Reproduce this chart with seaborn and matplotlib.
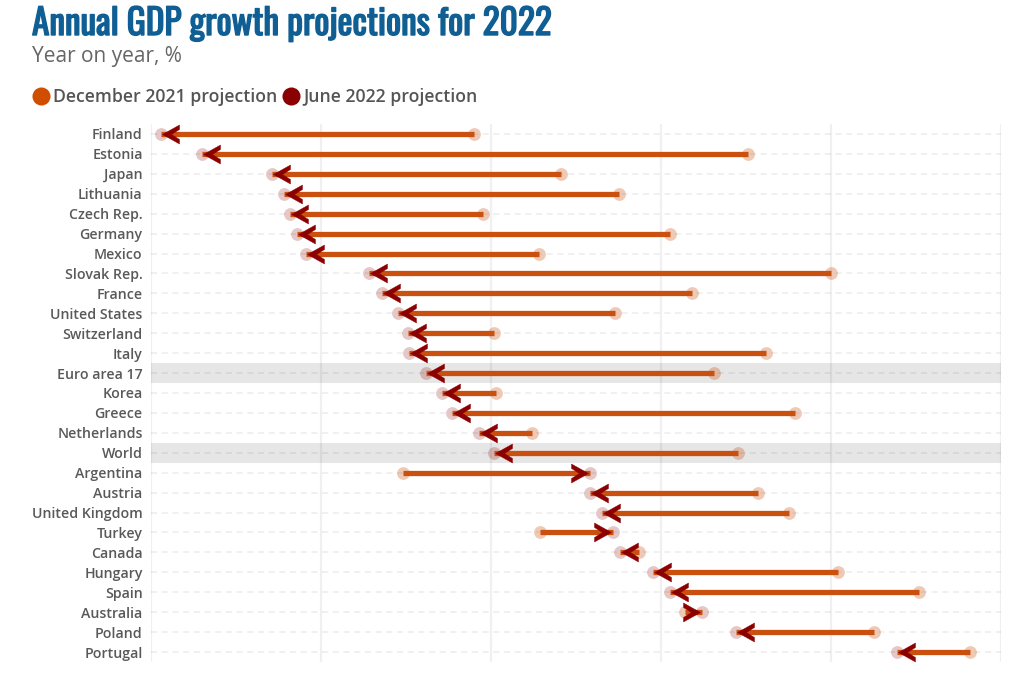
import numpy as np
import pandas as pd
import seaborn as sns
import matplotlib.pyplot as plt
import matplotlib.patheffects as pe
from matplotlib.lines import Line2D
from matplotlib.path import Path

# Values
countries = ["Finland", "Estonia", "Japan", "Lithuania", "Czech Rep.", "Germany", "Mexico",
             "Slovak Rep.", "France", "United States", "Switzerland", "Italy", "Euro area 17",
             "Korea", "Greece", "Netherlands", "World", "Argentina", "Austria", "United Kingdom",
             "Turkey", "Canada", "Hungary", "Spain", "Australia", "Poland", "Portugal"]
june_2022 = [1.06, 1.30, 1.71, 1.78, 1.82, 1.86, 1.91, 2.28, 2.36, 2.45, 2.51, 2.52, 2.62, 2.71,
             2.77, 2.93, 3.02, 3.58, 3.58, 3.65, 3.72, 3.76, 3.95, 4.05, 4.24, 4.44, 5.39]
dec_2021 = [2.90, 4.51, 3.41, 3.75, 2.95, 4.05, 3.28, 5.00, 4.18, 3.73, 3.02, 4.62, 4.31, 3.03,
            4.79, 3.24, 4.45, 2.48, 4.57, 4.75, 3.29, 3.87, 5.04, 5.52, 4.14, 5.25, 5.82]
highlighted = ["Euro area 17", "World"]
x_ticks = [1, 2, 3, 4, 5, 6]

ORANGE = "#c9500f"
DARK_RED = "#8b0000"
W, H = 1030, 694

sns.set_theme(style="white")
plt.rcParams["font.family"] = ["Open Sans", "DejaVu Sans"]

df = pd.DataFrame({"country": countries, "june": june_2022, "dec": dec_2021})
df["row"] = np.arange(len(df))

fig = plt.figure(figsize=(W / 100, H / 100), dpi=100, facecolor="white")
ax = fig.add_axes([151 / W, 1 - 662 / H, 850 / W, 538 / H])

# grey bands and the grid
for name in highlighted:
    r = countries.index(name)
    ax.axhspan(r - 0.5, r + 0.5, color="#e6e6e6", lw=0, zorder=0)
ax.hlines(df["row"], 1, 6, color="black", alpha=0.08, lw=1.1, linestyles=(0, (4, 3)), zorder=1)
for t in x_ticks:
    ax.axvline(t, color="black", alpha=0.06, lw=1.6, zorder=1)

# pale end points
sns.scatterplot(data=df, x="dec", y="row", color=ORANGE, alpha=0.3, s=85, linewidth=0, ax=ax, zorder=2)
sns.scatterplot(data=df, x="june", y="row", color=DARK_RED, alpha=0.22, s=85, linewidth=0, ax=ax, zorder=2)

ax.hlines(df["row"], df["dec"], df["june"], color=ORANGE, lw=3.8, zorder=3)

# arrow heads, one shape per direction, tip sits just inside the pale point
left_head = Path([(1, 0), (18, 9.5), (18, 5), (10, 0), (18, -5), (18, -9.5), (1, 0)], closed=True)
right_head = Path([(-2, 0), (-19, 9.5), (-19, 5), (-11, 0), (-19, -5), (-19, -9.5), (-2, 0)], closed=True)
falling = df[df["june"] < df["dec"]]
rising = df[df["june"] >= df["dec"]]
sns.scatterplot(data=falling, x="june", y="row", marker=left_head, color=DARK_RED, edgecolor=DARK_RED,
                s=672, linewidth=0.3, ax=ax, zorder=4)
sns.scatterplot(data=rising, x="june", y="row", marker=right_head, color=DARK_RED, edgecolor=DARK_RED,
                s=748, linewidth=0.3, ax=ax, zorder=4)

ax.set_xlim(1, 6)
ax.set_ylim(26.5, -0.5)
ax.set_xticks(x_ticks)
ax.set_xticklabels([])
ax.set_yticks(df["row"])
ax.set_yticklabels(countries, fontsize=10.2, color="#595959", fontweight="semibold")
ax.tick_params(axis="y", length=0, pad=6)
ax.tick_params(axis="x", length=0)
ax.set_xlabel("")
ax.set_ylabel("")
sns.despine(ax=ax, left=True, bottom=True)

# title block, Oswald only comes in regular here so thicken it with a stroke
title = fig.text(32 / W, 1 - 35 / H, "Annual GDP growth projections for 2022", fontsize=25.5,
                 family=["Oswald", "DejaVu Sans"], color="#0f5f94")
title.set_path_effects([pe.withStroke(linewidth=1.0, foreground="#0f5f94")])
fig.text(32 / W, 1 - 62 / H, "Year on year, %", fontsize=15, color="#666666")

handles = [Line2D([], [], ls="", marker="o", ms=13, color="#d04e00", mew=0),
           Line2D([], [], ls="", marker="o", ms=13, color=DARK_RED, mew=0)]
fig.legend(handles, ["December 2021 projection", "June 2022 projection"], ncols=2, frameon=False,
           loc="upper left", bbox_to_anchor=(16 / W, 1 - 76 / H), handletextpad=0.0, columnspacing=0.05,
           prop={"size": 12.7, "weight": "semibold"}, labelcolor="#555555", handlelength=1.4, borderpad=0.2)

fig.savefig("out.png", dpi=100)
